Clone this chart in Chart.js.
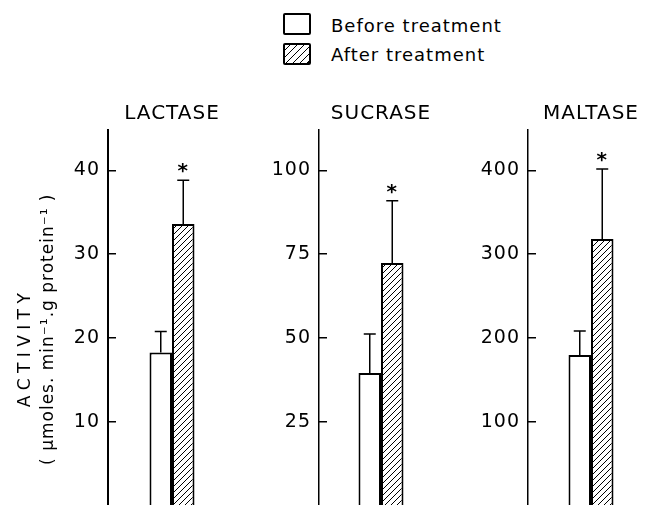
<!DOCTYPE html>
<html>
<head>
<meta charset="utf-8">
<script src="https://cdn.jsdelivr.net/npm/chart.js@4/dist/chart.umd.min.js"></script>
<style>
  body { margin: 0; width: 654px; height: 505px; overflow: hidden; background: #fff; position: relative; font-family: "DejaVu Sans", sans-serif; }
  canvas { position: absolute; top: 0; }
  .key { position: absolute; left: 283px; width: 28px; height: 22px; box-sizing: border-box; border: 2px solid #000; border-radius: 2px; }
  .key.after { background: repeating-linear-gradient(135deg, #fff 0 3px, #000 3px 4px, #fff 4px 5px); }
  .key-text { position: absolute; left: 331px; height: 24px; line-height: 24px; font-size: 18px; letter-spacing: 1px; color: #000; white-space: nowrap; }
</style>
</head>
<body>
<div class="key" style="top:13px"></div>
<div class="key-text" style="top:14px">Before treatment</div>
<div class="key after" style="top:43px"></div>
<div class="key-text" style="top:43px">After treatment</div>

<canvas id="chart0" width="236" height="506" style="left:0"></canvas>
<canvas id="chart1" width="207" height="506" style="left:236px"></canvas>
<canvas id="chart2" width="211" height="506" style="left:443px"></canvas>

<script>
const enzymes = ['LACTASE', 'SUCRASE', 'MALTASE'];
const beforeMeans = [18.3, 39.6, 180];
const beforeErr = [2.5, 11.6, 28.6];
const afterMeans = [33.6, 72.4, 318];
const afterErr = [5.2, 18.5, 83.5];
const significant = [true, true, true];
const axisMax = [44.8, 112, 448];
const tickSteps = [10, 25, 100];

// trailing em spaces push each rotated line down a little, like the original
const yTitle = [
    'A\u2009C\u2009T\u2009I\u2009V\u2009I\u2009T\u2009Y\u2003\u2003\u2003\u2002',
    '( \u03bcmoles. min\u207b\u00b9.g protein\u207b\u00b9 )\u2003\u2009'
];

// error bars (upward only) and significance asterisks
const errorBars = {
    id: 'errorBars',
    afterDatasetsDraw(chart) {
        let ctx = chart.ctx;
        let yScale = chart.scales.y;
        ctx.save();
        ctx.strokeStyle = '#000';
        ctx.fillStyle = '#000';
        ctx.lineWidth = 1.5;
        ctx.font = 'bold 20px "DejaVu Sans"';
        ctx.textAlign = 'center';
        ctx.textBaseline = 'alphabetic';
        chart.data.datasets.forEach((ds, di) => {
            let meta = chart.getDatasetMeta(di);
            meta.data.forEach((bar, j) => {
                let top = yScale.getPixelForValue(ds.data[j] + ds.errors[j]);
                ctx.beginPath();
                ctx.moveTo(bar.x, bar.y);
                ctx.lineTo(bar.x, top);
                ctx.moveTo(bar.x - 6, top);
                ctx.lineTo(bar.x + 6, top);
                ctx.stroke();
                if (ds.stars && ds.stars[j]) {
                    ctx.fillText('*', bar.x, top - 3);
                }
            });
        });
        ctx.restore();
    }
};

const spacing = {
    id: 'spacing',
    beforeDraw(chart) {
        chart.ctx.letterSpacing = '1px';
    }
};

function makeHatch(ctx) {
    let c = document.createElement('canvas');
    c.width = 6;
    c.height = 6;
    let p = c.getContext('2d');
    p.fillStyle = '#fff';
    p.fillRect(0, 0, 6, 6);
    p.strokeStyle = '#000';
    p.lineWidth = 1;
    p.beginPath();
    p.moveTo(0, 6); p.lineTo(6, 0);
    p.moveTo(-1, 1); p.lineTo(1, -1);
    p.moveTo(5, 7); p.lineTo(7, 5);
    p.stroke();
    return ctx.createPattern(c, 'repeat');
}

function makeChart(i, scaleWidth, areaWidth, axisWidth) {
    let ctx = document.getElementById('chart' + i).getContext('2d');
    let groupPct = 45 / areaWidth;
    let yOpts = {
        min: 0,
        max: axisMax[i],
        ticks: {
            stepSize: tickSteps[i],
            includeBounds: false,
            padding: 16,
            color: '#000',
            font: { family: 'DejaVu Sans', size: 19 },
            callback: v => v === 0 ? '' : v
        },
        grid: { drawOnChartArea: false, tickLength: -8, color: '#000', lineWidth: 1.5 },
        border: { display: true, color: '#000', width: axisWidth },
        afterFit: s => {
            s.width = scaleWidth;
            s.paddingTop = 0;
            s.paddingBottom = 0;
        }
    };
    if (i === 0) {
        yOpts.title = {
            display: true,
            text: yTitle,
            color: '#000',
            font: { family: 'DejaVu Sans', size: 17, lineHeight: 1.35 },
            padding: { top: 14, bottom: 0 }
        };
    }
    return new Chart(ctx, {
        type: 'bar',
        data: {
            labels: [enzymes[i]],
            datasets: [{
                label: 'Before treatment',
                data: [beforeMeans[i]],
                errors: [beforeErr[i]],
                backgroundColor: '#fff',
                borderColor: '#000',
                borderWidth: 2,
                barPercentage: 1,
                categoryPercentage: groupPct
            }, {
                label: 'After treatment',
                data: [afterMeans[i]],
                errors: [afterErr[i]],
                stars: [significant[i]],
                backgroundColor: makeHatch(ctx),
                borderColor: '#000',
                borderWidth: 2,
                barPercentage: 1,
                categoryPercentage: groupPct
            }]
        },
        options: {
            responsive: false,
            animation: false,
            layout: { padding: { top: 102, left: 0, right: 0, bottom: 0 } },
            plugins: {
                legend: { display: false },
                tooltip: { enabled: false },
                title: {
                    display: true,
                    text: enzymes[i],
                    fullSize: false,
                    color: '#000',
                    font: { family: 'DejaVu Sans', size: 20, weight: 'normal', lineHeight: 1.2 },
                    padding: { top: 0, bottom: 4 }
                }
            },
            scales: {
                x: { display: false },
                y: yOpts
            }
        },
        plugins: [errorBars, spacing]
    });
}

makeChart(0, 108, 128, 2);
makeChart(1, 83, 124, 1.5);
makeChart(2, 85, 126, 1.5);
</script>
</body>
</html>
